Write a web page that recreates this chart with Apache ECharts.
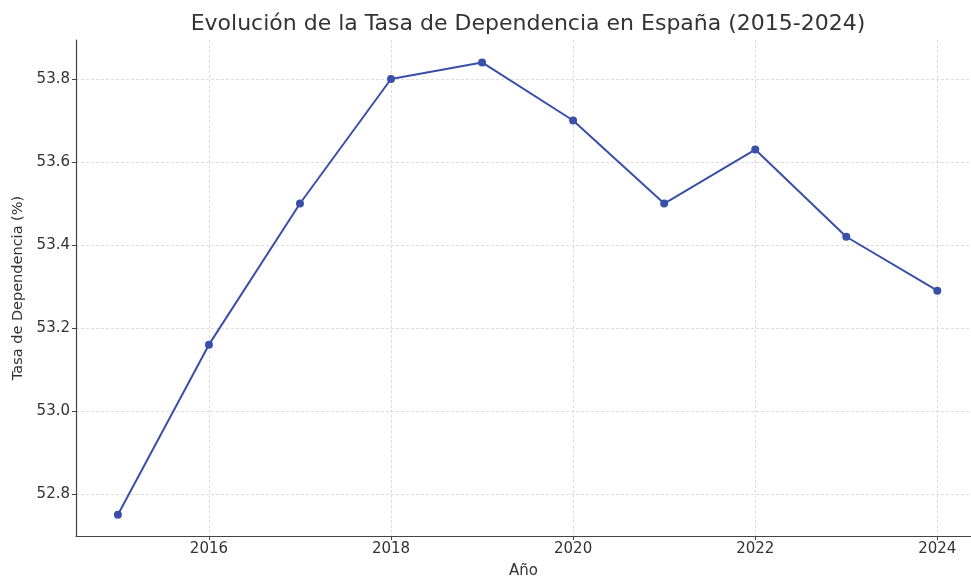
<!DOCTYPE html>
<html>
<head>
    <meta charset="utf-8">
    <title>Tasa de Dependencia</title>
    <script src="https://cdn.jsdelivr.net/npm/echarts@6/dist/echarts.min.js"></script>
    <style>
        html, body { margin: 0; padding: 0; background: #fff; }
        #main { width: 971px; height: 577px; }
    </style>
</head>
<body>
<div id="main"></div>
<script>
    // datos
    var years = [2015, 2016, 2017, 2018, 2019, 2020, 2021, 2022, 2023, 2024];
    var tasa = [52.75, 53.16, 53.50, 53.80, 53.84, 53.70, 53.50, 53.63, 53.42, 53.29];
    var xTicks = [2016, 2018, 2020, 2022, 2024];
    var yTicks = [52.8, 53.0, 53.2, 53.4, 53.6, 53.8];

    var font = 'DejaVu Sans';
    var points = years.map(function (y, i) { return [y, tasa[i]]; });

    var chart = echarts.init(document.getElementById('main'));
    chart.setOption({
        animation: false,
        backgroundColor: '#fff',
        title: {
            text: 'Evolución de la Tasa de Dependencia en España (2015-2024)',
            left: 523,
            top: 8,
            textAlign: 'center',
            textStyle: { fontFamily: font, fontSize: 22, fontWeight: 'normal', color: '#333' }
        },
        grid: { left: 76, right: 0, top: 40, bottom: 41, outerBoundsMode: 'none' },
        xAxis: {
            type: 'value',
            min: 2014.54,
            max: 2024.37,
            name: 'Año',
            nameLocation: 'middle',
            nameGap: 28,
            nameTextStyle: { fontFamily: font, fontSize: 15, color: '#333' },
            axisLine: { show: true, lineStyle: { color: '#444', width: 1.2 } },
            axisTick: { show: true, length: 4, customValues: xTicks, lineStyle: { color: '#444' } },
            axisLabel: {
                customValues: xTicks, fontFamily: font, fontSize: 15, color: '#333', margin: 6,
                formatter: function (v) { return String(v); }
            },
            splitLine: { show: true, lineStyle: { color: '#d4d4d4', type: [3, 2], width: 0.8 } }
        },
        yAxis: {
            type: 'value',
            min: 52.699,
            max: 53.894,
            name: 'Tasa de Dependencia (%)',
            nameLocation: 'middle',
            nameGap: 49,
            nameTextStyle: { fontFamily: font, fontSize: 14.5, color: '#333' },
            axisLine: { show: true, lineStyle: { color: '#444', width: 1.2 } },
            axisTick: { show: true, length: 4, customValues: yTicks, lineStyle: { color: '#444' } },
            axisLabel: {
                customValues: yTicks, fontFamily: font, fontSize: 15, color: '#333', margin: 6,
                formatter: function (v) { return v.toFixed(1); }
            },
            splitLine: { show: true, lineStyle: { color: '#d4d4d4', type: [3, 2], width: 0.8 } }
        },
        series: [{
            type: 'line',
            data: points,
            symbol: 'circle',
            symbolSize: 8,
            lineStyle: { color: '#3a50a8', width: 2 },
            itemStyle: { color: '#3a50a8' }
        }]
    });
</script>
</body>
</html>
